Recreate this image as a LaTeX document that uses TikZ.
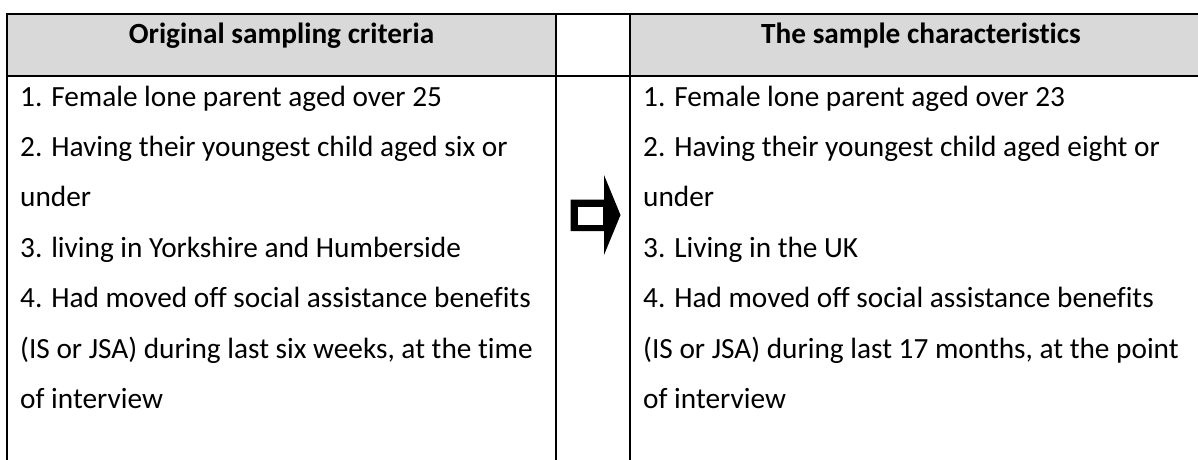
\documentclass[tikz,border=0pt]{standalone}
\usepackage{fontspec}
\setmainfont{Carlito}[Ligatures=NoCommon]
\definecolor{hdrgray}{HTML}{D9D9D9}
\begin{document}
\begin{tikzpicture}[x=1pt,y=-1pt,
  rule/.style={line width=2.2pt,line cap=rect},
  hdrfill/.style={fill=hdrgray},
  txt/.style={anchor=base west,inner sep=0pt,font=\fontsize{29.3}{50}\selectfont},
  hd/.style={anchor=base,inner sep=0pt,font=\fontsize{29.3}{50}\selectfont\bfseries},
  blockarrow/.style={fill=black}]
\useasboundingbox (0,0) rectangle (1198,459);
% header fills
\fill[hdrfill] (7,14) rectangle (556,75.7);
\fill[hdrfill] (630,14) rectangle (1198,75.7);
% rules
\draw[rule] (7,14) -- (1198,14);
\draw[rule] (7,75.7) -- (1198,75.7);
\draw[rule] (7,14) -- (7,459);
\draw[rule] (556,14) -- (556,459);
\draw[rule] (630,14) -- (630,459);
% headers
\node[hd] (hL) at (281.5,43) {Original sampling criteria};
\node[hd] (hR) at (921,43) {The sample characteristics};
% left column
\node[txt] (L1) at (20,106) {1. Female lone parent aged over 25};
\node[txt] (L2) at (20,156.4) {2. Having their youngest child aged six or};
\node[txt] (L3) at (20,206.8) {under};
\node[txt] (L4) at (20,257.2) {3. living in Yorkshire and Humberside};
\node[txt] (L5) at (20,307.6) {4. Had moved off social assistance benefits};
\node[txt] (L6) at (20,358) {(IS or JSA) during last six weeks, at the time};
\node[txt] (L7) at (20,408.4) {of interview};
% right column
\node[txt] (R1) at (643,106) {1. Female lone parent aged over 23};
\node[txt] (R2) at (643,156.4) {2. Having their youngest child aged eight or};
\node[txt] (R3) at (643,206.8) {under};
\node[txt] (R4) at (643,257.2) {3. Living in the UK};
\node[txt] (R5) at (643,307.6) {4. Had moved off social assistance benefits};
\node[txt] (R6) at (643,358) {(IS or JSA) during last 17 months, at the point};
\node[txt] (R7) at (643,408.4) {of interview};
% arrow
\fill[blockarrow] (570.7,199.5) -- (604,199.5) -- (604,175) -- (620.5,215) -- (604,255) -- (604,231) -- (570.7,231) -- cycle;
\fill[white] (577.5,206.5) rectangle (603,224.5);
\end{tikzpicture}
\end{document}
